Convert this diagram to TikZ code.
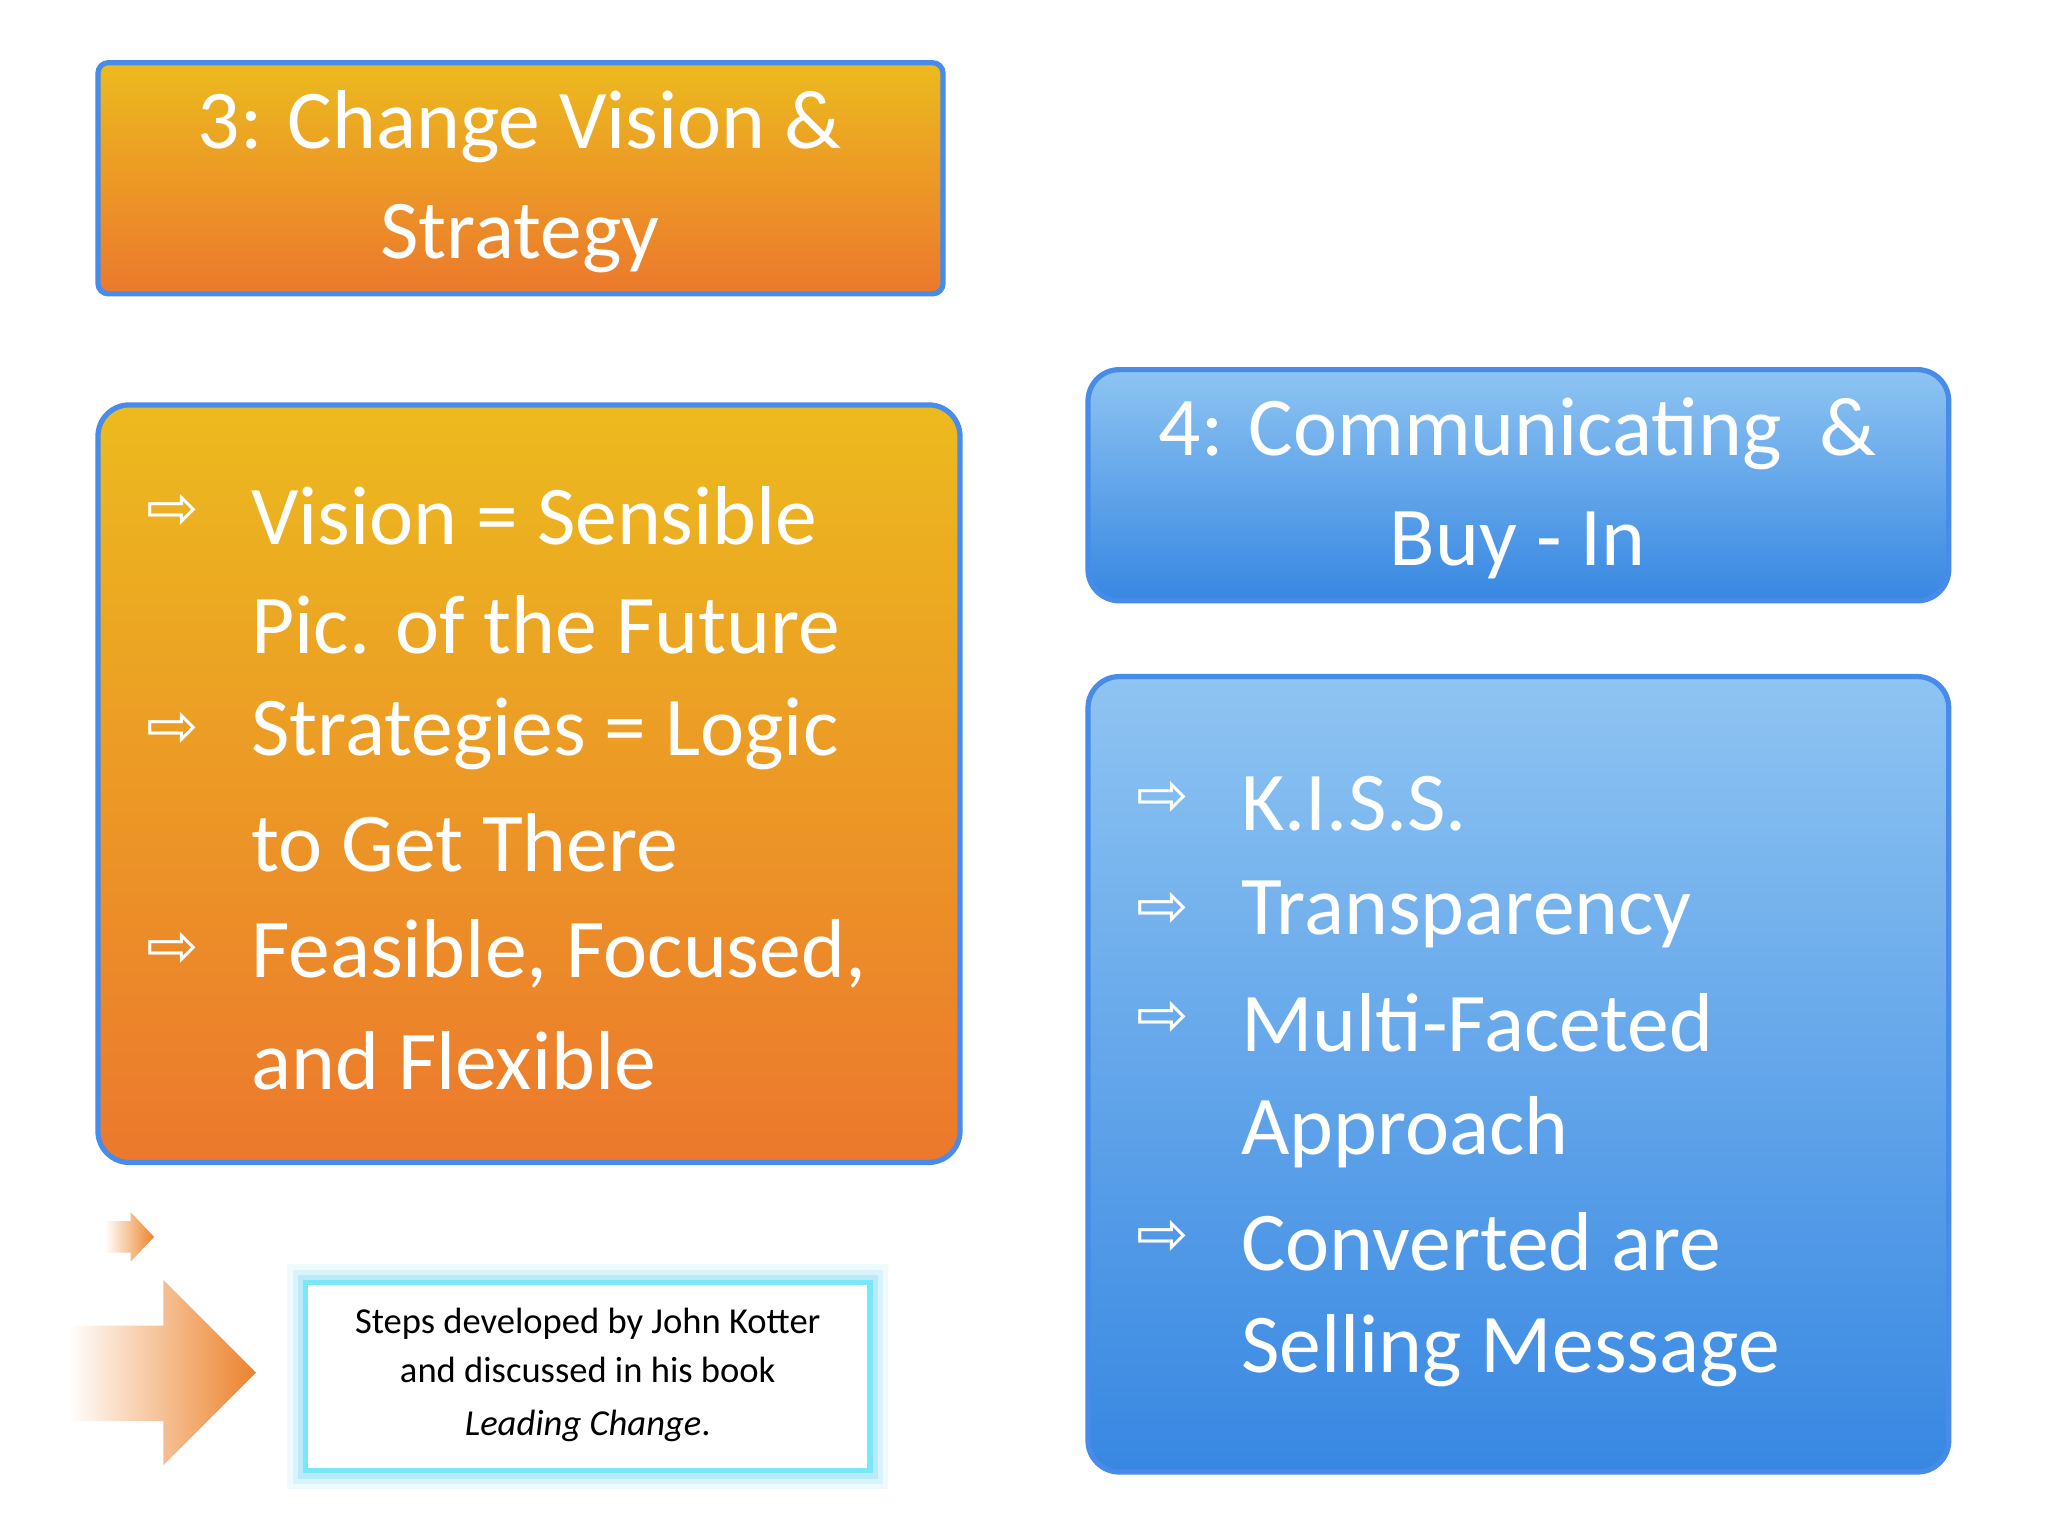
\documentclass[tikz,border=0pt]{standalone}
\usepackage{fontspec}
\setmainfont{Carlito}
\newfontfamily\djv{DejaVu Sans}
\definecolor{otop}{RGB}{236,186,30}
\definecolor{obot}{RGB}{236,120,45}
\definecolor{btop}{RGB}{142,196,242}
\definecolor{bbot}{RGB}{55,135,226}
\definecolor{bord}{RGB}{70,140,232}
\definecolor{glow}{RGB}{150,225,245}
\tikzset{
 obox/.style={draw=bord,line width=2pt,top color=otop,bottom color=obot},
 bbox/.style={draw=bord,line width=2pt,top color=btop,bottom color=bbot},
 big/.style={text=white,font=\fontsize{32}{42}\selectfont,inner sep=0pt},
 bul/.style={text=white,font=\djv\fontsize{24}{28}\selectfont,inner sep=0pt}
}
\begin{document}
\begin{tikzpicture}[x=0.5pt,y=-0.5pt]
\useasboundingbox (0,0) rectangle (1568,1176);
\fill[white] (0,0) rectangle (1568,1176);
% box 1
\path[obox,rounded corners=4pt] (75,48) rectangle (722,225);
\node[big,align=center] (t1) at (398,139) {3: Change Vision \&\\Strategy};
% box 2
\path[obox,rounded corners=12pt] (75,310) rectangle (735,890);
\foreach \y/\b/\t in {395/1/Vision = Sensible,478/0/Pic. of the Future,562/1/Strategies = Logic,645/0/to Get There,730/1/{Feasible, Focused,},812/0/and Flexible}{
  \node[big,anchor=west] at (192,\y) {\t};
  \ifnum\b=1 \node[bul] at (132,\y-3) {⇨};\fi
}
% box 3
\path[bbox,rounded corners=12pt] (833,283) rectangle (1492,460);
\node[big,align=center] (t3) at (1162,374) {4: Communicating\ \ \&\\Buy - In};
% box 4
\path[bbox,rounded corners=12pt] (833,518) rectangle (1492,1127);
\foreach \y/\b/\t in {615/1/K.I.S.S.,700/1/Transparency,783/1/Multi-Faceted,867/0/Approach,951/1/Converted are,1034/0/Selling Message}{
  \node[big,anchor=west] at (950,\y) {\t};
  \ifnum\b=1 \node[bul] at (890,\y-3) {⇨};\fi
}
% small arrow
\shade[left color=white,right color=obot!80!otop] (80,935)--(100,935)--(100,928)--(118,947)--(100,966)--(100,959)--(80,959)--cycle;
% big arrow
\shade[left color=white,right color=obot!85!otop] (52,1015)--(125,1015)--(125,980)--(196,1051)--(125,1122)--(125,1088)--(52,1088)--cycle;
% note box
\foreach \w/\o in {14/0.15,10/0.25,6/0.45}{\draw[glow,line width=\w pt,opacity=\o] (234,982) rectangle (666,1126);}
\draw[glow!80!cyan,line width=2pt,fill=white] (234,982) rectangle (666,1126);
\node[align=center,font=\fontsize{14}{18.5}\selectfont,inner sep=0pt] (note) at (450,1053) {Steps developed by John Kotter\\and discussed in his book\\[2pt]\textit{Leading Change}.};
\end{tikzpicture}
\end{document}
